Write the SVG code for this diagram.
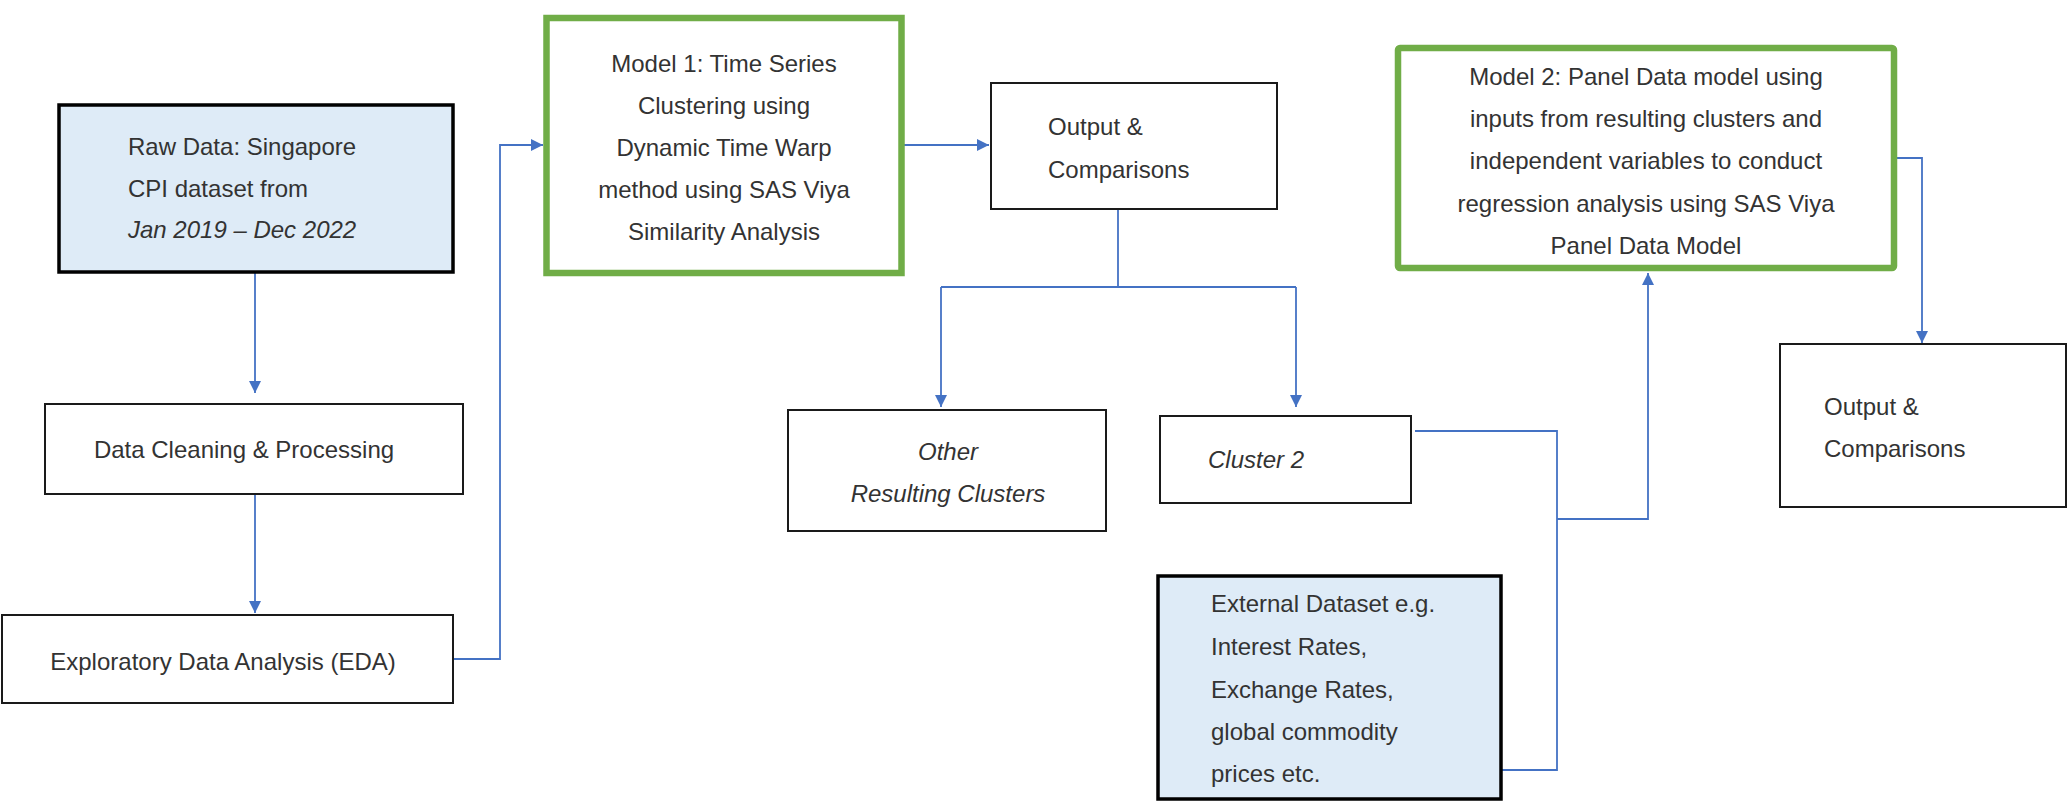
<svg xmlns="http://www.w3.org/2000/svg" width="2069" height="808" viewBox="0 0 2069 808">
  <style>
    .box { fill: #ffffff; stroke: #1a1a1a; stroke-width: 2; }
    .data { fill: #DEEBF7; stroke: #000000; stroke-width: 3.5; }
    .model { fill: #ffffff; stroke: #70AD47; stroke-width: 6.5; }
    .t { font-family: "Liberation Sans", Arial, sans-serif; font-size: 24px; fill: #333333; }
    .c { text-anchor: middle; }
    .i { font-style: italic; }
    .conn { fill: none; stroke: #4472C4; stroke-width: 1.8; }
  </style>
  <defs>
    <marker id="arr" markerUnits="userSpaceOnUse" markerWidth="13" markerHeight="13" refX="12" refY="6.5" orient="auto">
      <path d="M0,0.5 L12,6.5 L0,12.5 z" fill="#4472C4"/>
    </marker>
  </defs>
  <rect width="2069" height="808" fill="#ffffff"/>

  <g id="connectors">
    <path class="conn" d="M255,272 V393" marker-end="url(#arr)"/>
    <path class="conn" d="M255,494 V613" marker-end="url(#arr)"/>
    <path class="conn" d="M453,659 H500 V145 H543" marker-end="url(#arr)"/>
    <path class="conn" d="M904,145 H989" marker-end="url(#arr)"/>
    <path class="conn" d="M1118,209 V287"/>
    <path class="conn" d="M941,287 H1296"/>
    <path class="conn" d="M941,287 V407" marker-end="url(#arr)"/>
    <path class="conn" d="M1296,287 V407" marker-end="url(#arr)"/>
    <path class="conn" d="M1415,431 H1557 V770 H1502"/>
    <path class="conn" d="M1557,519 H1648 V273" marker-end="url(#arr)"/>
    <path class="conn" d="M1897,158 H1922 V343" marker-end="url(#arr)"/>
  </g>

  <g id="raw-data">
    <rect class="data" x="59" y="105" width="394" height="167"/>
    <text class="t" x="128" y="155">Raw Data: Singapore</text>
    <text class="t" x="128" y="197">CPI dataset from</text>
    <text class="t i" x="128" y="238">Jan 2019 – Dec 2022</text>
  </g>

  <g id="data-cleaning">
    <rect class="box" x="45" y="404" width="418" height="90"/>
    <text class="t c" x="244" y="458">Data Cleaning &amp; Processing</text>
  </g>

  <g id="eda">
    <rect class="box" x="2" y="615" width="451" height="88"/>
    <text class="t c" x="223" y="670">Exploratory Data Analysis (EDA)</text>
  </g>

  <g id="model1">
    <rect class="model" x="546.5" y="18" width="355" height="255"/>
    <text class="t c" x="724" y="72">Model 1: Time Series</text>
    <text class="t c" x="724" y="114">Clustering using</text>
    <text class="t c" x="724" y="156">Dynamic Time Warp</text>
    <text class="t c" x="724" y="198">method using SAS Viya</text>
    <text class="t c" x="724" y="240">Similarity Analysis</text>
  </g>

  <g id="output1">
    <rect class="box" x="991" y="83" width="286" height="126"/>
    <text class="t" x="1048" y="135">Output &amp;</text>
    <text class="t" x="1048" y="178">Comparisons</text>
  </g>

  <g id="other-clusters">
    <rect class="box" x="788" y="410" width="318" height="121"/>
    <text class="t c i" x="948" y="460">Other</text>
    <text class="t c i" x="948" y="502">Resulting Clusters</text>
  </g>

  <g id="cluster2">
    <rect class="box" x="1160" y="416" width="251" height="87"/>
    <text class="t i" x="1208" y="468">Cluster 2</text>
  </g>

  <g id="external-dataset">
    <rect class="data" x="1158" y="576" width="343" height="223"/>
    <text class="t" x="1211" y="612">External Dataset e.g.</text>
    <text class="t" x="1211" y="655">Interest Rates,</text>
    <text class="t" x="1211" y="698">Exchange Rates,</text>
    <text class="t" x="1211" y="740">global commodity</text>
    <text class="t" x="1211" y="782">prices etc.</text>
  </g>

  <g id="model2">
    <rect class="model" x="1398" y="48" width="496" height="220" rx="2"/>
    <text class="t c" x="1646" y="85">Model 2: Panel Data model using</text>
    <text class="t c" x="1646" y="127">inputs from resulting clusters and</text>
    <text class="t c" x="1646" y="169">independent variables to conduct</text>
    <text class="t c" x="1646" y="212">regression analysis using SAS Viya</text>
    <text class="t c" x="1646" y="254">Panel Data Model</text>
  </g>

  <g id="output2">
    <rect class="box" x="1780" y="344" width="286" height="163"/>
    <text class="t" x="1824" y="415">Output &amp;</text>
    <text class="t" x="1824" y="457">Comparisons</text>
  </g>
</svg>
